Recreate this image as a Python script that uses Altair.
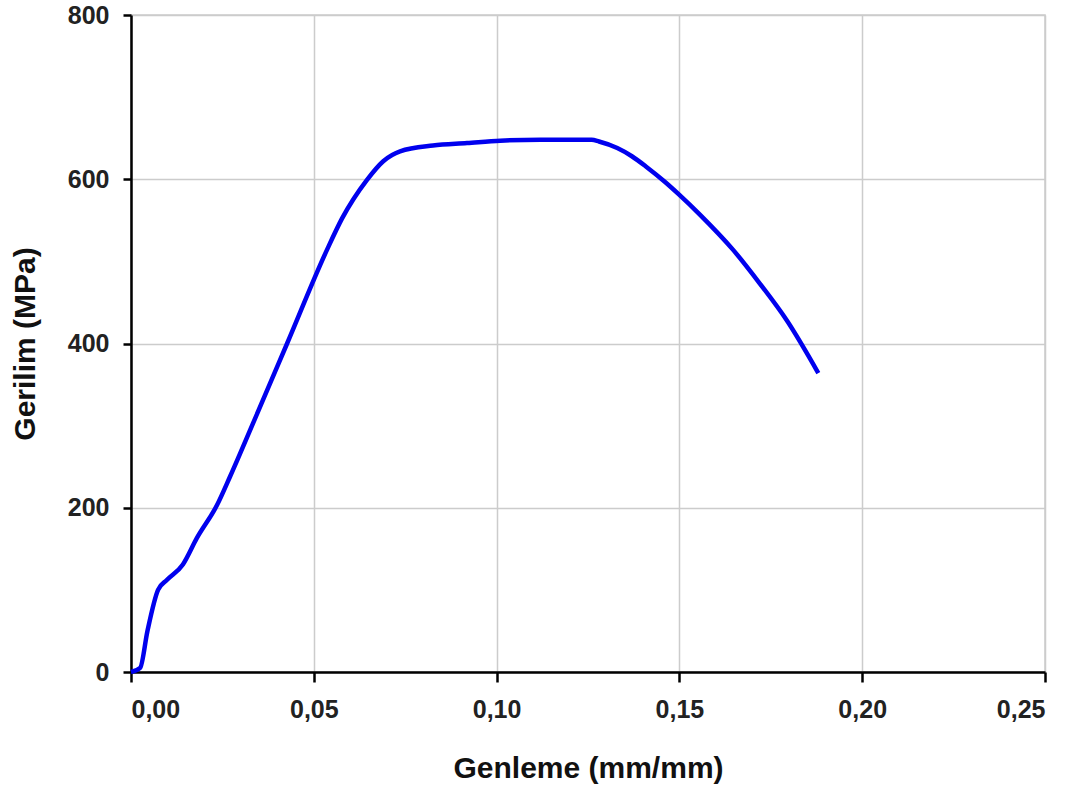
import altair as alt
import pandas as pd

# Stress–strain curve of the tensile specimen
strain = [0.0, 0.0025, 0.0045, 0.0074, 0.0098, 0.0142, 0.018, 0.0235, 0.0271,
          0.0334, 0.0427, 0.0536, 0.0577, 0.0645, 0.069, 0.0736, 0.0826,
          0.0919, 0.101, 0.112, 0.126, 0.128, 0.133, 0.137, 0.141, 0.146,
          0.150, 0.1556, 0.1647, 0.172, 0.1794, 0.188]
stress = [0, 5, 50, 100, 112, 131, 163, 203, 238,
          303, 400, 514, 552, 599, 622, 634, 641,
          644, 647, 648, 648, 646, 638, 628, 615, 597,
          581, 557, 514, 473, 428, 364]

x_ticks = [0.0, 0.05, 0.10, 0.15, 0.20, 0.25]
y_ticks = [0, 200, 400, 600, 800]

df = pd.DataFrame({"i": range(len(strain)), "strain": strain, "stress": stress})

FONT = "Liberation Sans"

chart = alt.Chart(df).mark_line(
    color="#0000ee", strokeWidth=4.5, interpolate="monotone"
).encode(
    x=alt.X("strain:Q",
            scale=alt.Scale(domain=[0, 0.25], nice=False, zero=False),
            axis=alt.Axis(values=x_ticks, title="Genleme (mm/mm)",
                          labelExpr="replace(format(datum.value, '.2f'), '.', ',')",
                          tickSize=10, labelPadding=15, titlePadding=31)),
    y=alt.Y("stress:Q",
            scale=alt.Scale(domain=[0, 800], nice=False),
            axis=alt.Axis(values=y_ticks, title="Gerilim (MPa)", format="d",
                          tickSize=8, labelPadding=14, titlePadding=27)),
    order="i:Q",
).properties(
    width=914, height=657,
    autosize=alt.AutoSizeParams(type="none"),
    padding={"left": 131, "top": 15, "right": 30, "bottom": 118},
).configure_axis(
    domainColor="black", domainWidth=2.5,
    tickColor="black", tickWidth=2.5,
    gridColor="#cccccc", gridWidth=1.5,
    labelFont=FONT, labelFontSize=25, labelFontWeight="bold", labelColor="#222222",
    titleFont=FONT, titleFontSize=30, titleFontWeight="bold", titleColor="#111111",
).configure_view(stroke="#cccccc", strokeWidth=1.5)

chart.save("out.html", embed_options={"renderer": "svg", "actions": False})
